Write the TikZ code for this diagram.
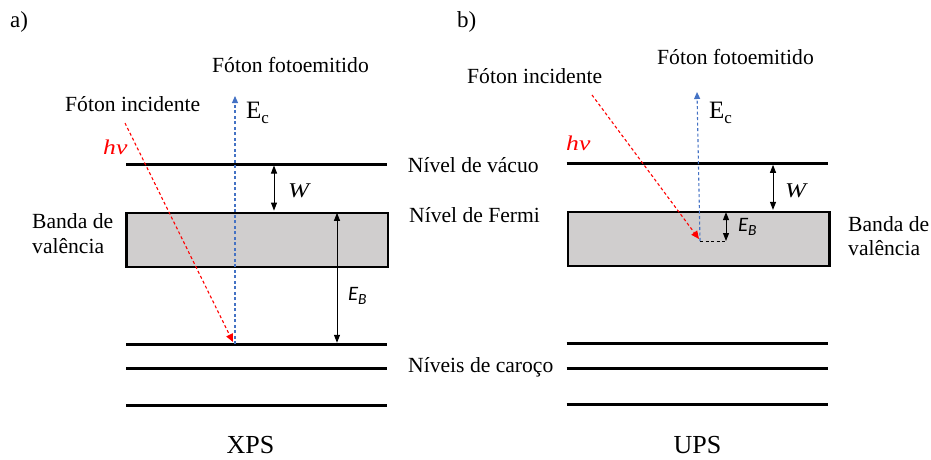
\documentclass[tikz,border=0pt]{standalone}
\usepackage{fontspec}
\setmainfont{Liberation Serif}
\newfontfamily\carl{Carlito}
\usetikzlibrary{arrows.meta}
\definecolor{bandgray}{HTML}{D0CECE}
\definecolor{photonred}{HTML}{FF0000}
\definecolor{photonblue}{HTML}{4472C4}
\newcommand{\ecsym}{E\raisebox{-5pt}{\fontsize{17}{17}\selectfont c}}
\newcommand{\ebsym}{{\carl\itshape E\raisebox{-4.5pt}{\fontsize{15.5}{16}\selectfont B}}}
\tikzset{
  lbl/.style={inner sep=0pt, anchor=base west, font=\fontsize{21.6}{26}\selectfont},
  biglbl/.style={inner sep=0pt, anchor=base, font=\fontsize{26}{30}\selectfont},
  eclbl/.style={inner sep=0pt, anchor=base west, font=\fontsize{25}{30}\selectfont},
  eblbl/.style={inner sep=0pt, anchor=base west, font=\fontsize{20.5}{24}\selectfont},
  wlbl/.style={inner sep=0pt, anchor=base west, font=\itshape\fontsize{21}{26}\selectfont},
  hvlbl/.style={inner sep=0pt, anchor=base west, text=photonred, font=\itshape\fontsize{21}{26}\selectfont},
  level/.style={line width=3pt},
  bandbox/.style={draw=black, line width=2.2pt, fill=bandgray},
  incident/.style={draw=photonred, line width=1.1pt, dash pattern=on 3pt off 2.5pt, -{Triangle[length=8pt,width=7pt]}},
  emitted/.style={draw=photonblue, line width=1.1pt, dash pattern=on 3pt off 2.5pt, -{Triangle[length=7pt,width=6pt]}},
  gaparrow/.style={draw=black, line width=1pt, {Triangle[length=8pt,width=6pt]}-{Triangle[length=8pt,width=6pt]}},
  helper/.style={draw=black, line width=1pt, dash pattern=on 3pt off 2.5pt},
}
\begin{document}
\begin{tikzpicture}[x=1pt,y=-1pt]
\useasboundingbox (0,0) rectangle (931,460);
% ---------- panel a (XPS) ----------
\node[lbl, font=\fontsize{23}{26}\selectfont] (labA) at (10,28) {a)};
\node[lbl] (emitA) at (212,72) {Fóton fotoemitido};
\node[lbl] (incA) at (65,111) {Fóton incidente};
\node[eclbl] (ecA) at (246,118) {\ecsym};
\node[hvlbl] (hvA) at (103,154) {\scalebox{1.22}[1]{hν}};
\node[bandbox, minimum width=261.4pt, minimum height=54pt, inner sep=0pt, anchor=north west] (bandA) at (125.3,211.7) {};
\coordinate (vacAl) at (126,164); \coordinate (vacAr) at (387,164);
\coordinate (c1Al) at (126,344.3); \coordinate (c1Ar) at (387,344.3);
\coordinate (c2Al) at (126,368.3); \coordinate (c2Ar) at (387,368.3);
\coordinate (c3Al) at (126,405); \coordinate (c3Ar) at (387,405);
\draw[level] (vacAl) -- (vacAr);
\draw[level] (c1Al) -- (c1Ar);
\draw[level] (c2Al) -- (c2Ar);
\draw[level] (c3Al) -- (c3Ar);
\coordinate (wAt) at (274,165.5); \coordinate (wAb) at (274,210.6);
\draw[gaparrow] (wAt) -- (wAb);
\node[wlbl] (wA) at (288,197) {\scalebox{1.2}[1]{W}};
\coordinate (ebAt) at (337,212.8); \coordinate (ebAb) at (337,342.8);
\draw[gaparrow] (ebAt) -- (ebAb);
\node[eblbl] (ebA) at (348,300) {\ebsym};
\coordinate (blueAb) at (235,344); \coordinate (blueAt) at (235,96);
\draw[emitted] (blueAb) -- (blueAt);
\coordinate (redAs) at (125,123); \coordinate (redAe) at (233,342);
\draw[incident] (redAs) -- (redAe);
\node[lbl] (bvA1) at (32,228) {Banda de};
\node[lbl] (bvA2) at (32,253) {valência};
\node[biglbl] (xps) at (250.5,453) {XPS};
% ---------- middle labels ----------
\node[lbl] (vacuo) at (407.7,172) {Nível de vácuo};
\node[lbl] (fermi) at (409,222) {Nível de Fermi};
\node[lbl] (caroco) at (408,372) {Níveis de caroço};
% ---------- panel b (UPS) ----------
\node[lbl, font=\fontsize{23}{26}\selectfont] (labB) at (457,28) {b)};
\node[lbl] (emitB) at (657,64) {Fóton fotoemitido};
\node[lbl] (incB) at (467,83) {Fóton incidente};
\node[eclbl] (ecB) at (709,118) {\ecsym};
\node[hvlbl] (hvB) at (566,150) {\scalebox{1.22}[1]{hν}};
\node[bandbox, minimum width=261.6pt, minimum height=54pt, inner sep=0pt, anchor=north west] (bandB) at (566.7,211) {};
\coordinate (vacBl) at (566.7,163.3); \coordinate (vacBr) at (828.3,163.3);
\coordinate (c1Bl) at (566.7,343.3); \coordinate (c1Br) at (828.3,343.3);
\coordinate (c2Bl) at (566.7,368.3); \coordinate (c2Br) at (828.3,368.3);
\coordinate (c3Bl) at (566.7,404); \coordinate (c3Br) at (828.3,404);
\draw[level] (vacBl) -- (vacBr);
\draw[level] (c1Bl) -- (c1Br);
\draw[level] (c2Bl) -- (c2Br);
\draw[level] (c3Bl) -- (c3Br);
\coordinate (wBt) at (773,164.8); \coordinate (wBb) at (773,209.9);
\draw[gaparrow] (wBt) -- (wBb);
\node[wlbl] (wB) at (785,197) {\scalebox{1.2}[1]{W}};
\coordinate (ebBt) at (726,212.1); \coordinate (ebBb) at (726,241);
\draw[gaparrow] (ebBt) -- (ebBb);
\node[eblbl] (ebB) at (738,231) {\ebsym};
\coordinate (blueBb) at (700,241); \coordinate (blueBt) at (697,92);
\draw[emitted] (blueBb) -- (blueBt);
\coordinate (redBs) at (592,95); \coordinate (redBe) at (699,239);
\draw[incident] (redBs) -- (redBe);
\draw[helper] (blueBb) -- (ebBb);
\node[lbl] (bvB1) at (848,231) {Banda de};
\node[lbl] (bvB2) at (848,255) {valência};
\node[biglbl] (ups) at (697.5,453) {UPS};
\end{tikzpicture}
\end{document}
